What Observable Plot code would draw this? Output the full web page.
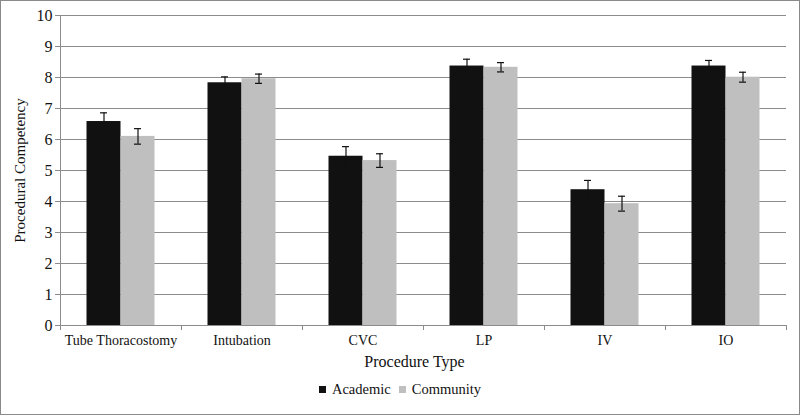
<!DOCTYPE html>
<html><head><meta charset="utf-8">
<script src="https://cdn.jsdelivr.net/npm/d3@7"></script>
<script src="https://cdn.jsdelivr.net/npm/@observablehq/plot@0.6"></script>
<style>
body{margin:0;background:#fff;}
#frame{position:absolute;left:0;top:0;width:800px;height:415px;box-sizing:border-box;border:1px solid #8a8a8a;font-family:"Liberation Serif","DejaVu Serif",serif;}
#legend{position:absolute;left:0;width:798px;top:380px;text-align:center;font-size:14.5px;color:#111;}
#legend span.sw{display:inline-block;width:7px;height:7px;margin-right:6px;vertical-align:1px;}
#legend span.item{margin:0 4px;}
</style>
</head><body>
<div id="frame"><div id="chart"></div>
<div id="legend"><span class="item"><span class="sw" style="background:#111"></span>Academic</span><span class="item"><span class="sw" style="background:#bfbfbf"></span>Community</span></div>
</div>
<script>
const categories = ["Tube Thoracostomy","Intubation","CVC","LP","IV","IO"];
const academic = [6.58, 7.83, 5.46, 8.37, 4.38, 8.37];
const academicErr = [0.28, 0.19, 0.31, 0.22, 0.30, 0.18];
const community = [6.10, 7.96, 5.32, 8.33, 3.93, 8.01];
const communityErr = [0.25, 0.15, 0.22, 0.15, 0.24, 0.16];
const yTicks = [0,1,2,3,4,5,6,7,8,9,10];

const acad = categories.map((c,i)=>({cat:c, v:academic[i], e:academicErr[i]}));
const comm = categories.map((c,i)=>({cat:c, v:community[i], e:communityErr[i]}));

const W = 798, H = 374, mL = 59, mR = 13;
const band = (W - mL - mR) / categories.length;
const half = band/2;
const barW = 34;
const gray = "#8c8c8c";
const FONT = "'Liberation Serif','DejaVu Serif',serif";

const plot = Plot.plot({
  width: W, height: H,
  marginLeft: mL, marginRight: mR, marginTop: 14, marginBottom: 50,
  style: {fontFamily: FONT, fontSize: "14px", color: "#111", background: "transparent"},
  x: {domain: categories, padding: 0, label: null},
  y: {domain: [0,10], label: null},
  marks: [
    Plot.gridY(yTicks, {stroke: gray, strokeOpacity: 1}),
    Plot.frame({anchor: "left", stroke: gray}),
    Plot.axisY(yTicks, {tickSize: 5, stroke: gray, tickPadding: 3, fontSize: 16, fontFamily: FONT, fill: "#111"}),
    Plot.text(["Procedural Competency"], {frameAnchor: "left", textAnchor: "middle", dx: -40, rotate: -90, fontSize: 15, fontFamily: FONT, fill: "#111"}),
    Plot.barY(acad, {x: "cat", y: "v", fill: "#111111", insetLeft: half - barW, insetRight: half}),
    Plot.barY(comm, {x: "cat", y: "v", fill: "#bfbfbf", insetLeft: half, insetRight: half - barW}),
    Plot.ruleY([0], {stroke: gray}),
    Plot.axisX({tickSize: 0, tickPadding: 10, fontSize: 14, fontFamily: FONT, fill: "#111"}),
    Plot.axisX({tickSize: 5, dx: -half, text: null, stroke: gray}),
    Plot.axisX(categories.slice(-1), {tickSize: 5, dx: half, text: null, stroke: gray}),
    Plot.ruleX(acad, {x: "cat", y1: d => d.v - d.e, y2: d => d.v + d.e, dx: -barW/2, stroke: "#111", strokeWidth: 1.2}),
    Plot.tickY(acad, {x: "cat", y: d => d.v + d.e, dx: -barW/2, insetLeft: half - 3.5, insetRight: half - 3.5, stroke: "#111", strokeWidth: 1.2}),
    Plot.tickY(acad, {x: "cat", y: d => d.v - d.e, dx: -barW/2, insetLeft: half - 3.5, insetRight: half - 3.5, stroke: "#111", strokeWidth: 1.2}),
    Plot.ruleX(comm, {x: "cat", y1: d => d.v - d.e, y2: d => d.v + d.e, dx: barW/2, stroke: "#111", strokeWidth: 1.2}),
    Plot.tickY(comm, {x: "cat", y: d => d.v + d.e, dx: barW/2, insetLeft: half - 3.5, insetRight: half - 3.5, stroke: "#111", strokeWidth: 1.2}),
    Plot.tickY(comm, {x: "cat", y: d => d.v - d.e, dx: barW/2, insetLeft: half - 3.5, insetRight: half - 3.5, stroke: "#111", strokeWidth: 1.2}),
    Plot.text(["Procedure Type"], {frameAnchor: "bottom", dy: 41, dx: -9, fontSize: 16, fontFamily: FONT, fill: "#111"})
  ]
});
document.getElementById("chart").appendChild(plot);
</script>
</body></html>
